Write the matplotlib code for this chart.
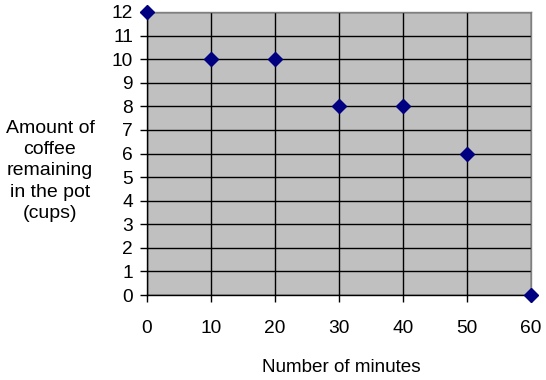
import matplotlib
matplotlib.use("Agg")
import matplotlib.pyplot as plt
from matplotlib.ticker import MultipleLocator

minutes = [0, 10, 20, 30, 40, 50, 60]
cups = [12, 10, 10, 8, 8, 6, 0]

plt.rcParams['font.family'] = ['Liberation Sans', 'DejaVu Sans']

fig = plt.figure(figsize=(5.46, 3.80), dpi=100)
ax = fig.add_axes([147/546, 85/380, 384/546, 283/380])
ax.set_facecolor('#C0C0C0')
ax.plot(minutes, cups, linestyle='none', marker='D', markersize=7,
        color='#000080', clip_on=False, zorder=5)
ax.set_xlim(0, 60)
ax.set_ylim(0, 12)
ax.xaxis.set_major_locator(MultipleLocator(10))
ax.yaxis.set_major_locator(MultipleLocator(1))
ax.grid(True, color='black', linewidth=1)
ax.set_axisbelow(True)
for s in ['left', 'bottom']:
    ax.spines[s].set_color('black')
    ax.spines[s].set_linewidth(1)
for s in ['top', 'right']:
    ax.spines[s].set_color('#808080')
    ax.spines[s].set_linewidth(1)
ax.tick_params(axis='both', direction='out', length=5, width=1, labelsize=13.8, color='black')
ax.tick_params(axis='x', pad=13)
ax.tick_params(axis='y', pad=5)
fig.text(0.5 * (147 + 531) / 546 + 0.005, 1 - 368/380, 'Number of minutes', ha='center', va='center', fontsize=13.6)
fig.text(50/546, 1 - 171/380, 'Amount of\ncoffee\nremaining\nin the pot\n(cups)', ha='center', va='center',
         fontsize=14, linespacing=1.34)
fig.savefig('out.png', dpi=100)
